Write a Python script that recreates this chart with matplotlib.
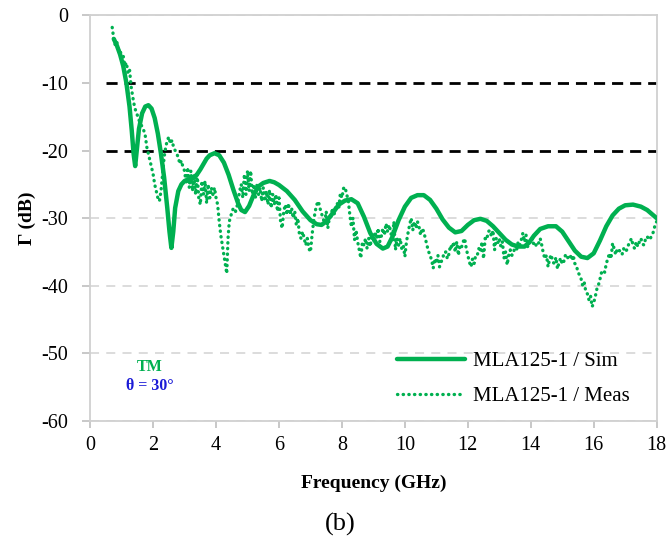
import matplotlib
matplotlib.use('Agg')
import matplotlib.pyplot as plt
from matplotlib.ticker import FuncFormatter

plt.rcParams['font.family'] = ['Liberation Serif', 'DejaVu Serif']

GREEN = '#00B050'

# simulated reflection (GHz, dB)
sim_f = [0.75, 0.85, 0.95, 1.05, 1.15, 1.25, 1.32, 1.38, 1.43, 1.48, 1.55, 1.65,
         1.75, 1.85, 1.95, 2.05, 2.15, 2.25, 2.35, 2.45, 2.52, 2.58, 2.64, 2.70,
         2.80, 2.90, 3.00, 3.10, 3.20, 3.30, 3.40, 3.50, 3.60, 3.70, 3.80, 3.95,
         4.10, 4.25, 4.40, 4.55, 4.70, 4.80, 4.92, 5.05, 5.20, 5.35, 5.50, 5.70,
         5.85, 6.00, 6.25, 6.50, 6.75, 7.00, 7.20, 7.35, 7.50, 7.70, 7.90, 8.10,
         8.30, 8.50, 8.70, 8.90, 9.10, 9.30, 9.45, 9.60, 9.80, 10.00, 10.20, 10.40,
         10.60, 10.80, 11.00, 11.20, 11.40, 11.60, 11.80, 12.00, 12.20, 12.40, 12.60,
         12.80, 13.00, 13.20, 13.40, 13.60, 13.80, 13.95, 14.10, 14.30, 14.55, 14.80,
         15.00, 15.20, 15.40, 15.60, 15.80, 16.00, 16.20, 16.40, 16.60, 16.80, 17.00,
         17.25, 17.50, 17.70, 17.90, 18.00]
sim_db = [-3.5, -4.5, -5.8, -7.5, -10.0, -13.5, -17.0, -20.5, -22.3, -20.0, -16.8, -14.5,
          -13.5, -13.3, -13.8, -15.2, -17.5, -20.5, -24.0, -28.5, -32.0, -34.4, -32.0, -28.5,
          -26.0, -25.0, -24.5, -24.3, -24.2, -24.0, -23.5, -22.8, -22.0, -21.2, -20.7, -20.4,
          -20.7, -21.8, -23.6, -25.8, -27.8, -28.8, -29.1, -28.2, -26.5, -25.3, -24.8, -24.5,
          -24.7, -25.1, -26.0, -27.3, -29.0, -30.3, -30.9, -31.0, -30.5, -29.3, -28.0, -27.4,
          -27.2, -27.8, -29.8, -32.2, -33.8, -34.5, -34.2, -32.8, -30.3, -28.3, -27.0, -26.6,
          -26.6, -27.3, -28.6, -30.2, -31.4, -32.1, -31.9, -31.0, -30.3, -30.1, -30.4,
          -31.2, -32.2, -33.2, -33.9, -34.2, -34.2, -33.6, -32.6, -31.6, -31.2, -31.2,
          -32.0, -33.4, -34.8, -35.7, -35.9, -35.2, -33.3, -31.2, -29.6, -28.6, -28.1,
          -28.0, -28.3, -28.8, -29.6, -30.0]

# measured reflection (GHz, dB)
meas_f = [0.70, 0.75, 0.80, 0.85, 0.90, 0.95, 1.00, 1.05, 1.10, 1.15, 1.20, 1.25,
          1.30, 1.35, 1.40, 1.45, 1.50, 1.55, 1.60, 1.70, 1.75, 1.80, 1.85, 1.90,
          1.95, 2.00, 2.05, 2.10, 2.15, 2.20, 2.25, 2.30, 2.35, 2.40, 2.45, 2.50,
          2.55, 2.60, 2.65, 2.70, 2.75, 2.80, 2.85, 2.90, 2.95, 3.00, 3.05, 3.10,
          3.15, 3.20, 3.25, 3.30, 3.35, 3.40, 3.45, 3.50, 3.55, 3.60, 3.65, 3.70,
          3.75, 3.80, 3.85, 3.90, 3.95, 4.00, 4.05, 4.10, 4.15, 4.20, 4.25, 4.30,
          4.34, 4.38, 4.42, 4.48, 4.55, 4.62, 4.68, 4.75, 4.80, 4.85, 4.90, 4.95,
          5.00, 5.05, 5.10, 5.15, 5.20, 5.25, 5.30, 5.35, 5.40, 5.45, 5.50, 5.55,
          5.60, 5.65, 5.70, 5.75, 5.80, 5.85, 5.90, 5.95, 6.00, 6.05, 6.10, 6.15,
          6.20, 6.25, 6.30, 6.35, 6.40, 6.45, 6.50, 6.55, 6.60, 6.65, 6.70, 6.75,
          6.80, 6.85, 6.90, 6.95, 7.00, 7.05, 7.10, 7.15, 7.20, 7.25, 7.30, 7.35,
          7.40, 7.45, 7.50, 7.55, 7.60, 7.65, 7.70, 7.75, 7.80, 7.85, 7.90, 7.95,
          8.00, 8.05, 8.10, 8.15, 8.20, 8.25, 8.30, 8.35, 8.40, 8.45, 8.50, 8.55,
          8.60, 8.65, 8.70, 8.75, 8.80, 8.85, 8.90, 8.95, 9.00, 9.05, 9.10, 9.15,
          9.20, 9.25, 9.30, 9.35, 9.40, 9.45, 9.50, 9.55, 9.60, 9.65, 9.70, 9.75,
          9.80, 9.85, 9.90, 9.95, 10.00, 10.05, 10.10, 10.15, 10.20, 10.25, 10.30, 10.35,
          10.40, 10.45, 10.50, 10.55, 10.60, 10.65, 10.70, 10.75, 10.80, 10.85, 10.90, 10.95,
          11.00, 11.05, 11.10, 11.15, 11.20, 11.25, 11.30, 11.35, 11.40, 11.45, 11.50, 11.55,
          11.60, 11.65, 11.70, 11.75, 11.80, 11.85, 11.90, 11.95, 12.00, 12.05, 12.10, 12.15,
          12.20, 12.25, 12.30, 12.35, 12.40, 12.45, 12.50, 12.55, 12.60, 12.65, 12.70, 12.75,
          12.80, 12.85, 12.90, 12.95, 13.00, 13.05, 13.10, 13.15, 13.20, 13.25, 13.30, 13.35,
          13.40, 13.45, 13.50, 13.55, 13.60, 13.65, 13.70, 13.75, 13.80, 13.85, 13.90, 13.95,
          14.00, 14.05, 14.10, 14.15, 14.20, 14.25, 14.30, 14.35, 14.40, 14.45, 14.50, 14.55,
          14.60, 14.65, 14.70, 14.75, 14.80, 14.85, 14.90, 14.95, 15.00, 15.05, 15.10, 15.15,
          15.20, 15.25, 15.30, 15.35, 15.40, 15.45, 15.50, 15.55, 15.60, 15.65, 15.70, 15.75,
          15.80, 15.85, 15.90, 15.95, 16.00, 16.05, 16.10, 16.15, 16.20, 16.25, 16.30, 16.35,
          16.40, 16.45, 16.50, 16.55, 16.60, 16.65, 16.70, 16.75, 16.80, 16.85, 16.90, 16.95,
          17.00, 17.05, 17.10, 17.15, 17.20, 17.25, 17.30, 17.35, 17.40, 17.45, 17.50, 17.55,
          17.60, 17.65, 17.70, 17.75, 17.80, 17.85, 17.90, 17.95, 18.00]
meas_db = [-1.8, -3.5, -4.5, -4.0, -5.5, -5.0, -6.5, -6.0, -7.5, -7.0, -8.5, -8.0,
           -10.5, -12.0, -13.3, -14.2, -14.8, -15.5, -16.0, -17.0, -17.8, -19.5, -20.5, -21.5,
           -22.5, -23.5, -25.0, -26.0, -27.0, -27.5, -26.0, -23.5, -21.0, -19.5, -18.5, -18.0,
           -19.0, -18.5, -19.5, -20.0, -20.5, -21.0, -22.0, -21.5, -22.5, -23.0, -25.0, -22.5,
           -25.5, -23.0, -26.0, -23.5, -26.5, -23.5, -27.0, -28.0, -24.5, -26.5, -24.5, -27.8,
           -25.0, -27.0, -25.5, -26.5, -25.5, -27.0, -28.0, -30.5, -32.5, -34.0, -35.5, -37.0,
           -38.2, -33.0, -30.5, -29.5, -28.5, -29.0, -28.0, -26.0, -25.0, -27.0, -23.5, -26.5,
           -23.0, -26.0, -23.0, -26.5, -25.0, -27.0, -25.0, -26.5, -25.5, -27.5, -25.5, -27.5,
           -26.0, -28.0, -25.8, -28.5, -26.5, -28.0, -26.5, -29.0, -27.0, -30.5, -31.5, -29.0,
           -28.0, -29.5, -27.8, -29.5, -28.5, -30.0, -29.0, -31.0, -30.0, -32.5, -33.0, -32.0,
           -33.0, -34.0, -33.0, -34.5, -35.0, -32.5, -30.5, -29.0, -28.0, -27.5, -28.5, -29.3,
           -30.0, -30.8, -29.0, -31.5, -30.0, -29.8, -28.5, -29.5, -28.3, -27.8, -28.5, -26.3,
           -27.0, -25.6, -25.4, -26.5, -27.3, -29.5, -31.3, -30.0, -33.2, -31.8, -33.5, -34.7,
           -35.9, -33.5, -34.0, -33.0, -34.5, -33.0, -34.2, -32.5, -33.5, -32.0, -33.0, -31.5,
           -33.5, -32.7, -31.5, -32.5, -30.8, -32.0, -31.0, -32.0, -33.4, -30.5, -34.7, -33.0,
           -34.0, -33.0, -34.5, -34.0, -35.7, -33.5, -32.2, -31.0, -30.0, -31.8, -30.5, -31.5,
           -30.5, -31.3, -32.5, -31.5, -32.0, -33.0, -34.0, -34.9, -35.5, -36.2, -37.4, -36.0,
           -36.7, -35.5, -37.2, -36.5, -36.0, -35.0, -35.0, -36.0, -35.3, -34.0, -34.5, -33.5,
           -35.0, -33.5, -35.5, -34.0, -34.3, -33.5, -33.0, -34.5, -35.5, -36.5, -37.2, -36.0,
           -36.7, -35.5, -35.5, -34.5, -35.0, -33.5, -36.0, -33.0, -33.2, -32.0, -31.8, -32.7,
           -31.8, -34.7, -33.0, -33.7, -33.0, -34.2, -33.5, -35.9, -35.0, -36.9, -35.5, -34.7,
           -35.5, -35.2, -34.0, -34.7, -33.5, -34.0, -33.2, -32.2, -33.5, -32.5, -34.2, -33.5,
           -33.7, -33.0, -34.0, -34.2, -33.5, -33.7, -33.0, -34.0, -35.2, -36.0, -35.5, -37.2,
           -36.0, -35.4, -36.5, -36.7, -35.8, -37.5, -36.5, -35.9, -36.8, -36.4, -35.5, -36.0,
           -35.7, -35.4, -36.2, -35.5, -36.7, -37.0, -38.0, -38.4, -39.0, -40.0, -39.5, -40.9,
           -41.2, -42.1, -41.5, -43.1, -42.5, -41.6, -40.5, -39.9, -39.0, -38.0, -37.7, -38.0,
           -36.7, -36.0, -35.2, -36.0, -33.7, -34.5, -35.4, -34.5, -34.7, -35.0, -35.4, -34.5,
           -35.0, -34.7, -34.0, -33.5, -33.0, -34.0, -34.5, -33.5, -34.2, -33.5, -33.0, -33.8,
           -34.0, -33.0, -32.7, -33.2, -33.0, -32.5, -32.0, -31.0, -30.5]

# reference levels
ref_f = [0.5, 18.0]
ref_levels = [-10, -20]

xticks = list(range(0, 19, 2))
yticks = list(range(-60, 1, 10))

fig = plt.figure(figsize=(6.68, 5.44), dpi=100)
ax = fig.add_axes([0.135, 0.226, 0.848, 0.746])

# light grey dashed grid
for y in yticks:
    if y in ref_levels:
        continue
    ax.axhline(y, color='#d9d9d9', lw=1.3, ls=(0, (5, 4)), zorder=0)

for lev in ref_levels:
    ax.plot(ref_f, [lev, lev], color='black', lw=2.0, ls=(0, (4, 2.5)), zorder=2)

ax.plot(sim_f, sim_db, color=GREEN, lw=3.2, label='MLA125-1 / Sim', zorder=3,
        solid_capstyle='round')
ax.plot(meas_f, meas_db, color=GREEN, lw=2.4, ls=(0, (0.1, 1.6)),
        dash_capstyle='round', label='MLA125-1 / Meas', zorder=4)

ax.set_xlim(0, 18)
ax.set_ylim(-60, 0)
ax.set_xticks(xticks)
ax.set_yticks(yticks)
ax.yaxis.set_major_formatter(FuncFormatter(lambda v, p: '%d' % v))
ax.tick_params(axis='both', labelsize=14.5, colors='black')
ax.tick_params(axis='x', direction='out', length=5, color='#bfbfbf', width=1.2, pad=6)
ax.tick_params(axis='y', direction='out', length=6, color='#bfbfbf', width=1.2, pad=10)

for s in ax.spines.values():
    s.set_color('#d0d0d0')
    s.set_linewidth(1.3)

ax.set_xlabel('Frequency (GHz)', fontsize=14, fontweight='bold', labelpad=14)
ax.set_ylabel('\u0393 (dB)', fontsize=14, fontweight='bold', labelpad=4)

ax.text(1.9, -52.6, 'TM', color=GREEN, fontsize=11.5, fontweight='bold', ha='center')
ax.text(1.9, -55.4, '\u03b8 = 30\u00b0', color='#1a1ad6', fontsize=11.5,
        fontweight='bold', ha='center')

leg = ax.legend(loc='lower left', bbox_to_anchor=(0.541, 0.036), frameon=False,
                fontsize=15, handlelength=3.3, labelspacing=0.75, handletextpad=0.35,
                borderpad=0, borderaxespad=0)

fig.text(0.51, 0.025, '(b)', fontsize=19, ha='center')

fig.savefig('out.png', dpi=100)
